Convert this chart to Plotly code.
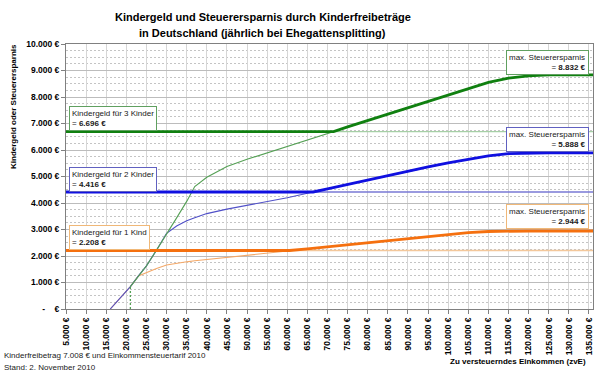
import plotly.graph_objects as go

# ---------------- data ----------------
incomes = [16000, 21000, 23000, 25000, 27500, 30000, 32500, 35000, 37000, 40000,
           45000, 50000, 55000, 60000, 65000, 70000, 75000, 80000, 85000, 90000,
           95000, 100000, 105000, 110000, 115000, 120000, 125000, 136000]

# Steuerersparnis durch Kinderfreibeträge (1, 2, 3 Kinder)
sparnis_1 = [0, 842, 1250, 1380, 1530, 1660, 1730, 1780, 1820, 1870,
             1950, 2030, 2115, 2200, 2270, 2345, 2425, 2505, 2585, 2660,
             2740, 2810, 2880, 2925, 2944, 2944, 2944, 2944]
sparnis_2 = [0, 842, 1250, 1630, 2220, 2857, 3130, 3330, 3440, 3600,
             3770, 3910, 4050, 4200, 4370, 4530, 4700, 4870, 5040, 5200,
             5360, 5510, 5650, 5780, 5860, 5888, 5888, 5888]
sparnis_3 = [None, 842, 1250, 1630, 2220, 2857, 3440, 4060, 4620, 4970,
             5380, 5650, 5890, 6140, 6380, 6620, 6870, 7110, 7350, 7600,
             7840, 8080, 8310, 8550, 8710, 8800, 8832, 8832]

kindergeld = [2208, 4416, 6696]
max_sparnis = [2944, 5888, 8832]
labels_kg = ["Kindergeld für 1 Kind", "Kindergeld für 2 Kinder", "Kindergeld für 3 Kinder"]

x_axis_extent = [5000, 136000]
x_ticks = list(range(5000, 135001, 5000))
y_ticks = list(range(0, 10001, 1000))

# ---------------- styles ----------------
thick_cols = ["#f5700f", "#1010e0", "#108010"]
thin_curve_cols = ["#f3a868", "#5050c8", "#55a055"]
thin_kg_cols = ["#f3c89c", "#7878d4", "#a6d0a6"]
box_cols = ["#f0b878", "#6060c0", "#60a060"]


def eur(v):
    return f"{v:,}".replace(",", ".") + " €"


def crossing(xs, ys, level):
    pts = [(x, y) for x, y in zip(xs, ys) if y is not None]
    for (x0, y0), (x1, y1) in zip(pts[:-1], pts[1:]):
        if y0 < level <= y1:
            return x0 + (level - y0) / (y1 - y0) * (x1 - x0)
    return None


fig = go.Figure()

series = [sparnis_1, sparnis_2, sparnis_3]

# thin Kindergeld continuation (after crossing)
for i, (s, kg) in enumerate(zip(series, kindergeld)):
    xc = crossing(incomes, s, kg)
    fig.add_trace(go.Scatter(x=[xc, x_axis_extent[1]], y=[kg, kg], mode="lines",
                             line=dict(color=thin_kg_cols[i], width=1.3),
                             hoverinfo="skip", showlegend=False))

# thin tax-saving curves
for i, s in enumerate(series):
    fig.add_trace(go.Scatter(x=incomes, y=s, mode="lines",
                             line=dict(color=thin_curve_cols[i], width=1.1),
                             connectgaps=False, hoverinfo="skip", showlegend=False))

# dotted drop line of the 3-children curve
first3 = next(i for i, v in enumerate(sparnis_3) if v is not None)
fig.add_trace(go.Scatter(x=[incomes[first3], incomes[first3]], y=[0, sparnis_3[first3]],
                         mode="lines", line=dict(color=thin_curve_cols[2], width=1.3, dash="2px,2px"),
                         hoverinfo="skip", showlegend=False))

# thick effective benefit: Kindergeld until crossing, then tax saving
for i, (s, kg) in enumerate(zip(series, kindergeld)):
    xc = crossing(incomes, s, kg)
    xs = [x_axis_extent[0], xc]
    ys = [kg, kg]
    for x, y in zip(incomes, s):
        if y is not None and x > xc:
            xs.append(x)
            ys.append(y)
    fig.add_trace(go.Scatter(x=xs, y=ys, mode="lines",
                             line=dict(color=thick_cols[i], width=2.8),
                             hoverinfo="skip", showlegend=False))

# ---------------- layout ----------------
L, R, T, B = 66, 9, 44, 64
W, H = 602, 373
pw, ph = W - L - R, H - T - B


def px(xp):
    return (xp - L) / pw


def py(yp):
    return (T + ph - yp) / ph


bold = dict(family="Liberation Sans", size=8.5, color="black", weight="bold")

fig.update_layout(
    width=W, height=H,
    margin=dict(l=L, r=R, t=T, b=B, pad=0),
    paper_bgcolor="white", plot_bgcolor="white",
    showlegend=False,
    xaxis=dict(range=x_axis_extent, tickvals=x_ticks, ticktext=[eur(v) for v in x_ticks],
               tickangle=-90, tickfont=bold, ticks="outside", ticklen=4, tickcolor="#808080",
               showgrid=True, gridcolor="#d6d6d6", gridwidth=1,
               showline=True, linecolor="#808080", linewidth=1, mirror=True, zeroline=False),
    yaxis=dict(range=[0, 10000], tickvals=y_ticks,
               ticktext=["-\u00a0\u00a0\u00a0\u00a0€"] + [eur(v) for v in y_ticks[1:]],
               tickfont=bold, ticks="outside", ticklen=4, tickcolor="#808080",
               showgrid=True, gridcolor="#bcbcbc", gridwidth=1,
               minor=dict(dtick=250, showgrid=True, gridcolor="#c4c4c4", griddash="2px,2px", gridwidth=1),
               showline=True, linecolor="#808080", linewidth=1, mirror=True, zeroline=False),
)

ann = []
# title
ann.append(dict(text="<b>Kindergeld und Steuerersparnis durch Kinderfreibeträge</b>",
                x=px(263), y=py(17), xref="paper", yref="paper", showarrow=False,
                xanchor="center", yanchor="middle",
                font=dict(family="Liberation Sans", size=11, color="black")))
ann.append(dict(text="<b>in Deutschland (jährlich bei Ehegattensplitting)</b>",
                x=px(262), y=py(33), xref="paper", yref="paper", showarrow=False,
                xanchor="center", yanchor="middle",
                font=dict(family="Liberation Sans", size=11, color="black")))
# axis titles
ann.append(dict(text="<b>Kindergeld oder Steuerersparnis</b>", textangle=-90,
                x=px(14), y=py(107), xref="paper", yref="paper", showarrow=False,
                xanchor="center", yanchor="middle",
                font=dict(family="Liberation Sans", size=8, color="black")))
ann.append(dict(text="<b>Zu versteuerndes Einkommen (zvE)</b>",
                x=px(588), y=py(361), xref="paper", yref="paper", showarrow=False,
                xanchor="right", yanchor="middle",
                font=dict(family="Liberation Sans", size=8, color="black")))
# footnotes
ann.append(dict(text="Kinderfreibetrag 7.008 € und Einkommensteuertarif 2010",
                x=px(2), y=py(355), xref="paper", yref="paper", showarrow=False,
                xanchor="left", yanchor="middle",
                font=dict(family="Liberation Sans", size=8, color="#202020")))
ann.append(dict(text="Stand: 2. November 2010",
                x=px(2), y=py(367), xref="paper", yref="paper", showarrow=False,
                xanchor="left", yanchor="middle",
                font=dict(family="Liberation Sans", size=8, color="#202020")))

# Kindergeld boxes (left) and max. Steuerersparnis boxes (right)
kg_box_tops = [225, 167, 106]
max_box_tops = [204, 127, 50]
for i in range(3):
    ann.append(dict(text=f"{labels_kg[i]}<br>= <b>{eur(kindergeld[i])}</b>",
                    x=px(69), y=py(kg_box_tops[i]), xref="paper", yref="paper", showarrow=False,
                    xanchor="left", yanchor="top", align="left",
                    bgcolor="white", bordercolor=box_cols[i], borderwidth=1, borderpad=2,
                    font=dict(family="Liberation Sans", size=8, color="#202020")))
    ann.append(dict(text=f"max. Steuerersparnis<br>= <b>{eur(max_sparnis[i])}</b>",
                    x=px(589), y=py(max_box_tops[i]), xref="paper", yref="paper", showarrow=False,
                    xanchor="right", yanchor="top", align="right",
                    bgcolor="white", bordercolor=box_cols[i], borderwidth=1, borderpad=2,
                    font=dict(family="Liberation Sans", size=8, color="#202020")))

fig.update_layout(annotations=ann)

fig.write_html("out.html", config={"displayModeBar": False},
               post_script="document.body.style.margin='0';document.body.style.overflow='hidden';")
